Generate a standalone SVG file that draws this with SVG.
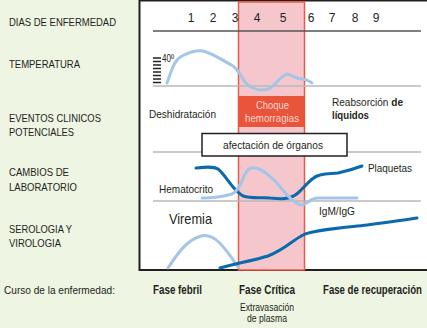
<svg xmlns="http://www.w3.org/2000/svg" width="427" height="328" viewBox="0 0 427 328">
<style>
text{font-family:"Liberation Sans",Arial,sans-serif;fill:#231f20;font-size:11.6px;}
.num{font-size:12px;text-anchor:middle;}
.b{font-weight:bold;}
.ph{font-size:12.5px;font-weight:bold;}
.curve{fill:none;stroke-width:3;stroke-linecap:round;stroke-linejoin:round;}
.light{stroke:#a3c6e8;}
.dark{stroke:#0a6aad;}
.grid{stroke:#b9b9b9;stroke-width:1.5;}
</style>
<rect width="427" height="328" fill="#eef5e3"/>
<g id="chart-frame">
<rect x="139.5" y="0.5" width="300" height="269.5" fill="#ffffff" stroke="#231f20" stroke-width="2"/>
<rect x="238.5" y="2" width="66" height="268" fill="#f6c6cd" stroke="#ea5a45" stroke-width="1.5"/>
</g>
<g id="row-labels">
<text x="9" y="25.5" textLength="107" lengthAdjust="spacingAndGlyphs">DIAS DE ENFERMEDAD</text>
<text x="9" y="68" textLength="71" lengthAdjust="spacingAndGlyphs">TEMPERATURA</text>
<text x="9" y="121.5" textLength="92" lengthAdjust="spacingAndGlyphs">EVENTOS CLINICOS</text>
<text x="9" y="135.5" textLength="65" lengthAdjust="spacingAndGlyphs">POTENCIALES</text>
<text x="9" y="175.5" textLength="60" lengthAdjust="spacingAndGlyphs">CAMBIOS DE</text>
<text x="9" y="190.5" textLength="68" lengthAdjust="spacingAndGlyphs">LABORATORIO</text>
<text x="9" y="232.5" textLength="63" lengthAdjust="spacingAndGlyphs">SEROLOGIA Y</text>
<text x="9" y="246.5" textLength="52" lengthAdjust="spacingAndGlyphs">VIROLOGIA</text>
</g>
<g id="days">
<text class="num" x="191" y="22">1</text>
<text class="num" x="213" y="22">2</text>
<text class="num" x="235" y="22">3</text>
<text class="num" x="257" y="22">4</text>
<text class="num" x="283" y="22">5</text>
<text class="num" x="311" y="22">6</text>
<text class="num" x="332" y="22">7</text>
<text class="num" x="355" y="22">8</text>
<text class="num" x="376" y="22">9</text>
</g>
<g id="connectors">
<line x1="153" y1="31" x2="421" y2="31" stroke="#555" stroke-width="1.5"/>
<line class="grid" x1="153" y1="86" x2="421" y2="86"/>
<line class="grid" x1="153" y1="152" x2="421" y2="152"/>
<line class="grid" x1="153" y1="201" x2="421" y2="201"/>
</g>
<g id="temperature">
<g stroke="#231f20" stroke-width="1.5">
<line x1="153" y1="58" x2="161" y2="58"/>
<line x1="153" y1="61.5" x2="161" y2="61.5"/>
<line x1="153" y1="65" x2="161" y2="65"/>
<line x1="153" y1="68.5" x2="161" y2="68.5"/>
<line x1="153" y1="72" x2="161" y2="72"/>
<line x1="153" y1="75.5" x2="161" y2="75.5"/>
<line x1="153" y1="79" x2="161" y2="79"/>
<line x1="153" y1="82.5" x2="161" y2="82.5"/>
</g>
<text x="162" y="62" style="font-size:11px" textLength="12" lengthAdjust="spacingAndGlyphs">40º</text>
<path class="curve light" d="M167,83 C172,70 174,60 182,56 C190,52 196,50 203,51 C212,53 222,60 233,66 C240,71 242,80 248,85 C254,90 262,91 268,89 C276,86 280,76 287,74 C293,75 295,79 302,79 C306,79 309,81 312,83"/>
</g>
<g id="events">
<text x="149" y="118" textLength="67" lengthAdjust="spacingAndGlyphs">Deshidratación</text>
<g id="choque">
<rect x="238.5" y="96" width="66" height="31" fill="#e9553a"/>
<text x="256" y="108.5" style="fill:#fbd3d3" textLength="33" lengthAdjust="spacingAndGlyphs">Choque</text>
<text x="245" y="122" style="fill:#fbd3d3" textLength="54" lengthAdjust="spacingAndGlyphs">hemorragias</text>
</g>
<text x="332" y="105.5" textLength="71" lengthAdjust="spacingAndGlyphs">Reabsorción <tspan class="b">de</tspan></text>
<text x="332" y="118.5" class="b" textLength="37" lengthAdjust="spacingAndGlyphs">líquidos</text>
<g id="organos">
<rect x="202" y="133.5" width="145" height="22.5" fill="#ffffff" stroke="#231f20" stroke-width="1.5"/>
<text x="223" y="148.5" textLength="100" lengthAdjust="spacingAndGlyphs">afectación de órganos</text>
</g>
</g>
<g id="laboratory">
<path class="curve dark" d="M196,168 C205,167 213,166 218,169 C226,175 232,190 243,196 C252,199 262,197 270,198 C280,199 290,200 298,193 C306,186 311,177 320,175 C328,173 332,174 338,173 C347,171 354,169 362,166"/>
<path class="curve light" d="M202,198 C212,198 222,197 232,194 C242,190 243,170 251,168 C258,166 266,172 276,182 C283,190 293,204 302,205 C308,204 310,198 318,198 L357,198"/>
<text x="159" y="193" textLength="54" lengthAdjust="spacingAndGlyphs">Hematocrito</text>
<text x="368" y="172" textLength="44" lengthAdjust="spacingAndGlyphs">Plaquetas</text>
</g>
<g id="serology">
<text x="169" y="224" style="font-size:15px" textLength="43" lengthAdjust="spacingAndGlyphs">Viremia</text>
<text x="319" y="215" textLength="36" lengthAdjust="spacingAndGlyphs">IgM/IgG</text>
<path class="curve light" d="M168,268 C176,256 186,240 201,236 C214,233 224,246 238,267"/>
<path class="curve dark" d="M220,268 C232,264 252,261 268,256 C284,250 293,240 303,235 C313,230 340,228 367,225 C390,222 405,220 417,218"/>
</g>
<g id="phases">
<text x="4" y="294" textLength="111" lengthAdjust="spacingAndGlyphs">Curso de la enfermedad:</text>
<text x="153" y="294" class="ph" textLength="49" lengthAdjust="spacingAndGlyphs">Fase febril</text>
<text x="239" y="294" class="ph" textLength="56" lengthAdjust="spacingAndGlyphs">Fase Crítica</text>
<text x="323" y="294" class="ph" textLength="99" lengthAdjust="spacingAndGlyphs">Fase de recuperación</text>
<text x="240" y="311" style="font-size:10.5px" textLength="54" lengthAdjust="spacingAndGlyphs">Extravasación</text>
<text x="247" y="322" style="font-size:10.5px" textLength="40" lengthAdjust="spacingAndGlyphs">de plasma</text>
</g>
</svg>
